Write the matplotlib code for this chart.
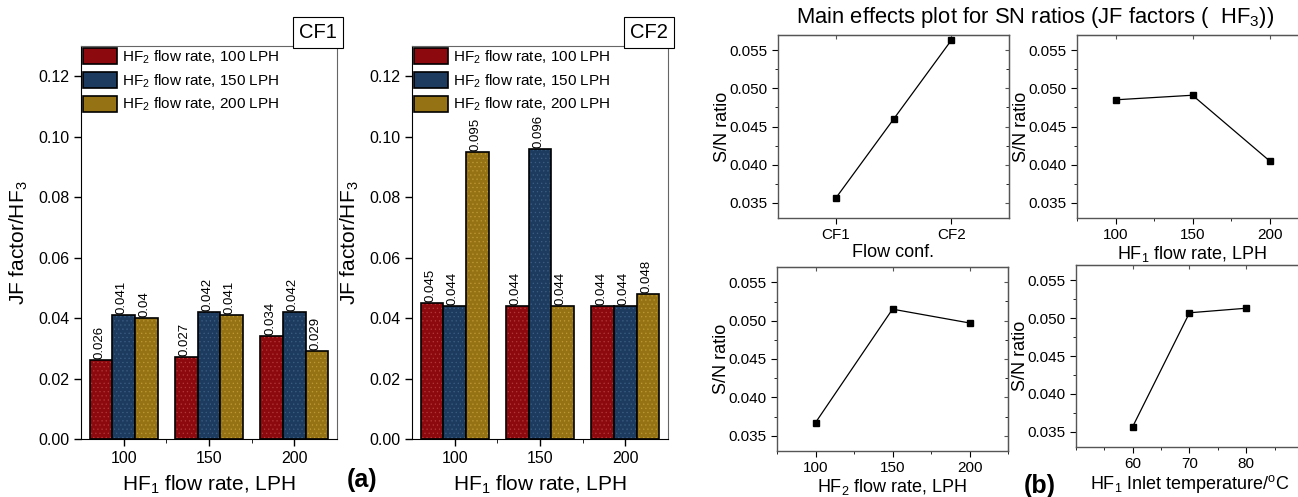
import matplotlib
matplotlib.use("Agg")
import matplotlib.pyplot as plt
import numpy as np
from matplotlib.patches import Patch
from matplotlib.ticker import FixedLocator, MultipleLocator

plt.rcParams['font.family'] = ['Liberation Sans', 'DejaVu Sans']
plt.rcParams['mathtext.fontset'] = 'custom'
plt.rcParams['mathtext.rm'] = 'Liberation Sans'
plt.rcParams['mathtext.it'] = 'Liberation Sans:italic'
plt.rcParams['mathtext.bf'] = 'Liberation Sans:bold'
plt.rcParams['hatch.linewidth'] = 0.4

# ---- data (a): JF factor / HF3 bars, series = HF2 rate, groups = HF1 rate
hf1_rates = ['100', '150', '200']
series_names = ['HF$_2$ flow rate, 100 LPH', 'HF$_2$ flow rate, 150 LPH', 'HF$_2$ flow rate, 200 LPH']
cf1_100 = [0.026, 0.027, 0.034]
cf1_150 = [0.041, 0.042, 0.042]
cf1_200 = [0.040, 0.041, 0.029]
cf2_100 = [0.045, 0.044, 0.044]
cf2_150 = [0.044, 0.096, 0.044]
cf2_200 = [0.095, 0.044, 0.048]

# ---- data (b): main effects S/N ratios
flow_conf_x = [1, 1.5, 2]
flow_conf_sn = [0.0356, 0.04595, 0.0563]
flow_conf_labels = ['CF1', 'CF2']
hf1_flow = [100, 150, 200]
hf1_flow_sn = [0.0485, 0.0491, 0.0405]
hf2_flow = [100, 150, 200]
hf2_flow_sn = [0.0367, 0.0515, 0.0497]
hf1_temp = [60, 70, 80]
hf1_temp_sn = [0.0357, 0.0507, 0.0513]

colors = ['#8c0a0e', '#1d3b5e', '#957214']
hatch_cols = ['#b3393a', '#3d5f85', '#c09a35']

W, H = 1298, 497
fig = plt.figure(figsize=(W / 100, H / 100), dpi=100)


def px(l, t, r, b):
    return [l / W, 1 - b / H, (r - l) / W, (b - t) / H]


def bar_panel(rect, data, tag):
    ax = fig.add_axes(rect)
    x = np.arange(len(hf1_rates))
    w = 0.265
    for i, vals in enumerate(data):
        pos = x + (i - 1) * w
        ax.bar(pos, vals, w, color=colors[i], edgecolor=hatch_cols[i], hatch='....', linewidth=0)
        bars = ax.bar(pos, vals, w, facecolor='none', edgecolor='black', linewidth=1.2)
        for b, v in zip(bars, vals):
            ax.text(b.get_x() + b.get_width() / 2 - 0.02, v + 0.0003, f"{v:g}", rotation=90,
                    ha='center', va='bottom', fontsize=9.5)
    ax.set_xlim(-0.5, 2.5)
    ax.set_ylim(0, 0.13)
    ax.set_xticks(x)
    ax.set_xticklabels(hf1_rates)
    ax.xaxis.set_minor_locator(FixedLocator([0.5, 1.5]))
    ax.set_yticks([0, 0.02, 0.04, 0.06, 0.08, 0.10, 0.12])
    ax.set_yticklabels(['0.00', '0.02', '0.04', '0.06', '0.08', '0.10', '0.12'])
    ax.tick_params(labelsize=11.5, length=5, width=1)
    ax.tick_params(which='minor', length=3)
    for s in ['top', 'right']:
        ax.spines[s].set_color('#666666')
    ax.set_ylabel('JF factor/HF$_3$', fontsize=15, labelpad=6)
    ax.set_xlabel('HF$_1$ flow rate, LPH', fontsize=15, labelpad=6)
    ax.text(1.0, 1.01, tag, transform=ax.transAxes, ha='right', va='bottom', fontsize=14.5,
            bbox=dict(facecolor='white', edgecolor='black', pad=4.5, linewidth=0.8))
    handles = [Patch(facecolor=colors[i], edgecolor='black', linewidth=1.2, label=series_names[i])
               for i in range(3)]
    ax.legend(handles=handles, loc='upper left', frameon=False, fontsize=11, handlelength=2.2,
              handleheight=1.25, borderaxespad=0.05, borderpad=0.1, labelspacing=0.4,
              handletextpad=0.35)
    return ax


bar_panel(px(81, 46, 337, 439), [cf1_100, cf1_150, cf1_200], 'CF1')
bar_panel(px(412, 46, 668, 439), [cf2_100, cf2_150, cf2_200], 'CF2')

fig.text(362 / W, 1 - 480 / H, '(a)', fontsize=18, fontweight='bold', ha='center', va='center')
fig.text(1040 / W, 1 - 486 / H, '(b)', fontsize=18, fontweight='bold', ha='center', va='center')


def sn_panel(rect, x, y, xlim, xlabel, ticks=None, ticklabels=None, minor=None):
    ax = fig.add_axes(rect)
    ax.plot(x, y, color='black', linewidth=0.9, marker='s', markersize=4.5)
    ax.set_xlim(*xlim)
    ax.set_ylim(0.033, 0.057)
    ax.set_yticks([0.035, 0.040, 0.045, 0.050, 0.055])
    ax.set_yticklabels(['0.035', '0.040', '0.045', '0.050', '0.055'])
    if ticks is not None:
        ax.set_xticks(ticks)
    if ticklabels is not None:
        ax.set_xticklabels(ticklabels)
    if minor is not None:
        ax.xaxis.set_minor_locator(MultipleLocator(minor))
    ax.yaxis.set_minor_locator(MultipleLocator(0.0025))
    ax.tick_params(labelsize=11, length=4, width=0.8)
    ax.tick_params(which='minor', length=2)
    # small inward ticks on top and right edges
    top = ax.secondary_xaxis('top')
    top.set_xticks(ax.get_xticks())
    top.tick_params(direction='in', length=3, labeltop=False, colors='#555555')
    right = ax.secondary_yaxis('right')
    right.set_yticks([0.035, 0.040, 0.045, 0.050, 0.055])
    right.yaxis.set_minor_locator(MultipleLocator(0.0025))
    right.tick_params(direction='in', length=3, labelright=False, colors='#555555')
    right.tick_params(which='minor', direction='in', length=2)
    for s in ax.spines.values():
        s.set_color('#555555')
        s.set_linewidth(1.0)
    top.spines['top'].set_color('#555555')
    right.spines['right'].set_color('#555555')
    ax.set_ylabel('S/N ratio', fontsize=13)
    ax.yaxis.set_label_coords(-0.205, 0.5)
    ax.set_xlabel(xlabel, fontsize=13, labelpad=1)
    return ax


sn_panel(px(778, 35, 1009, 218), flow_conf_x, flow_conf_sn, (0.5, 2.5), 'Flow conf.',
         ticks=[1, 2], ticklabels=flow_conf_labels)
sn_panel(px(1077, 35, 1308, 218), hf1_flow, hf1_flow_sn, (75, 225), 'HF$_1$ flow rate, LPH',
         ticks=[100, 150, 200], minor=25)
sn_panel(px(777, 267, 1008, 451), hf2_flow, hf2_flow_sn, (75, 225), 'HF$_2$ flow rate, LPH',
         ticks=[100, 150, 200], minor=25)
sn_panel(px(1076, 265, 1303, 447), hf1_temp, hf1_temp_sn, (50, 90),
         'HF$_1$ Inlet temperature/$^{\\mathrm{o}}$C', ticks=[60, 70, 80], minor=5)

fig.text(1035 / W, 1 - 18 / H, 'Main effects plot for SN ratios (JF factors (  HF$_3$))',
         fontsize=15.8, ha='center', va='center')

fig.savefig('out.png', dpi=100)
